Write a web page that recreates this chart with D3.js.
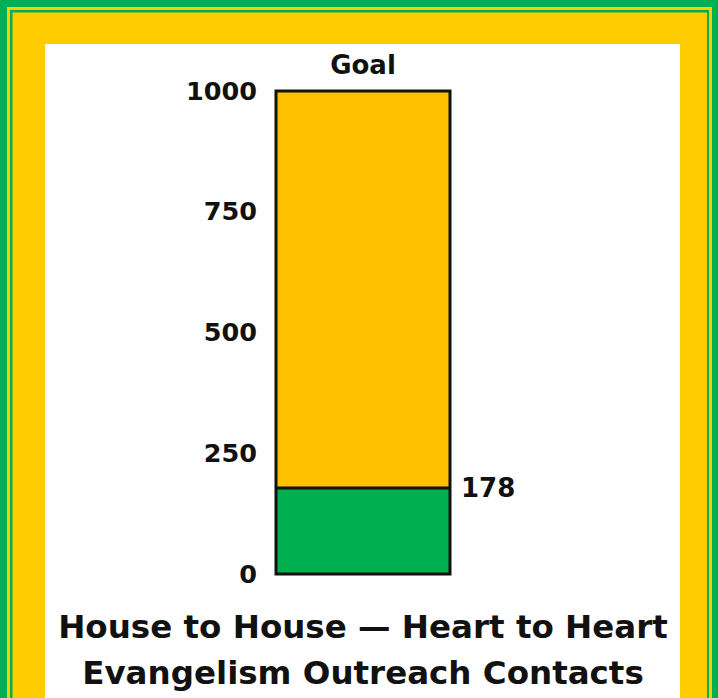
<!DOCTYPE html>
<html>
<head>
<meta charset="utf-8">
<script src="https://cdn.jsdelivr.net/npm/d3@7"></script>
<style>
  body { margin: 0; padding: 0; background: #fff; }
  text { font-family: "DejaVu Sans", Verdana, sans-serif; font-weight: 700; fill: #111; }
</style>
</head>
<body>
<div id="chart"></div>
<script>
// thermometer style goal chart
var goalLabel = "Goal";
var goalValue = 1000;
var currentValue = 178;
var tickValues = [0, 250, 500, 750, 1000];
var titleLines = ["House to House \u2014 Heart to Heart", "Evangelism Outreach Contacts"];

var W = 718, H = 698;
var green = "#00b050", yellow = "#ffcc00", barYellow = "#ffc000";

var svg = d3.select("#chart").append("svg")
    .attr("width", W)
    .attr("height", H);

// frame: green / yellow / green / yellow stripes
svg.append("rect").attr("x", 0).attr("y", 0).attr("width", W).attr("height", H).attr("fill", green);
svg.append("rect").attr("x", 7).attr("y", 7).attr("width", W - 13).attr("height", H).attr("fill", yellow);
svg.append("rect").attr("x", 10).attr("y", 10).attr("width", W - 19).attr("height", H).attr("fill", green);
svg.append("rect").attr("x", 12.5).attr("y", 12.5).attr("width", W - 23.5).attr("height", H).attr("fill", yellow);
svg.append("rect").attr("x", 45).attr("y", 44).attr("width", 635).attr("height", H).attr("fill", "#fff");

// scales
var y = d3.scaleLinear()
    .domain([0, goalValue])
    .range([574, 91]);
var x = d3.scaleBand()
    .domain([goalLabel])
    .range([276, 450])
    .padding(0);

// goal bar (full)
svg.append("rect")
    .attr("x", x(goalLabel))
    .attr("width", x.bandwidth())
    .attr("y", y(goalValue))
    .attr("height", y(0) - y(goalValue))
    .attr("fill", barYellow);

// current progress
svg.append("rect")
    .attr("x", x(goalLabel))
    .attr("width", x.bandwidth())
    .attr("y", y(currentValue))
    .attr("height", y(0) - y(currentValue))
    .attr("fill", green);

// outlines
svg.append("line")
    .attr("x1", x(goalLabel)).attr("x2", x(goalLabel) + x.bandwidth())
    .attr("y1", y(currentValue)).attr("y2", y(currentValue))
    .attr("stroke", "#111").attr("stroke-width", 3);
svg.append("rect")
    .attr("x", x(goalLabel))
    .attr("width", x.bandwidth())
    .attr("y", y(goalValue))
    .attr("height", y(0) - y(goalValue))
    .attr("fill", "none")
    .attr("stroke", "#111")
    .attr("stroke-width", 3);

// y axis labels
var yAxis = d3.axisLeft(y).tickValues(tickValues).tickFormat(d3.format("d")).tickSize(0).tickPadding(0);
var gy = svg.append("g")
    .attr("transform", "translate(257,0)")
    .call(yAxis);
gy.select(".domain").remove();
gy.selectAll("text")
    .style("font-family", "'DejaVu Sans', Verdana, sans-serif")
    .style("font-weight", "700")
    .style("font-size", "25.5px")
    .attr("fill", "#111");

// goal label
svg.append("text")
    .attr("x", x(goalLabel) + x.bandwidth() / 2)
    .attr("y", y(goalValue) - 17)
    .attr("text-anchor", "middle")
    .style("font-size", "26px")
    .text(goalLabel);

// current value label
svg.append("text")
    .attr("x", 461)
    .attr("y", y(currentValue))
    .attr("dy", "0.35em")
    .style("font-size", "26px")
    .text(currentValue);

// title
svg.selectAll(".title")
    .data(titleLines)
    .enter()
    .append("text")
    .attr("class", "title")
    .attr("x", 363)
    .attr("y", function(d, i) { return 638 + i * 46; })
    .attr("text-anchor", "middle")
    .style("font-size", "32.5px")
    .text(function(d) { return d; });
</script>
</body>
</html>
